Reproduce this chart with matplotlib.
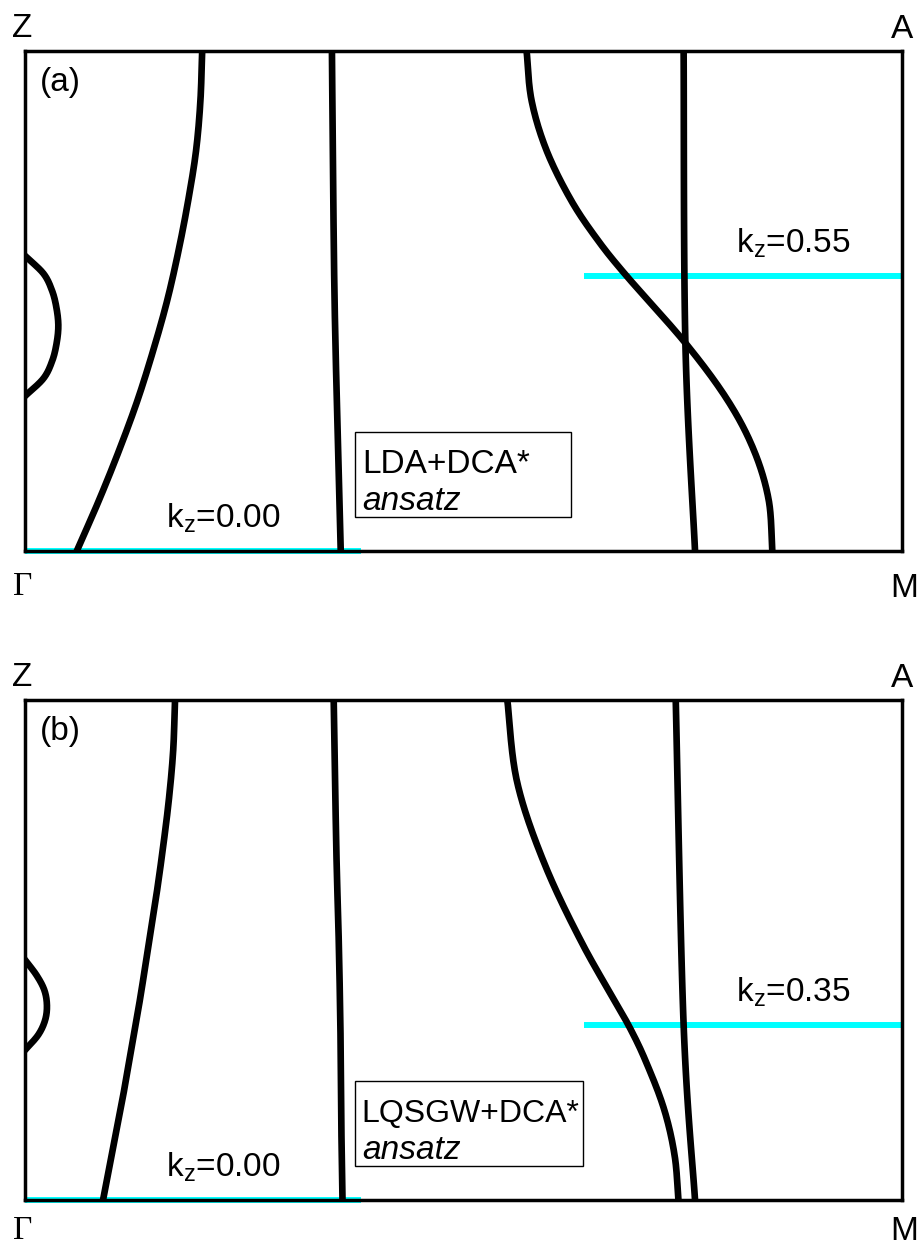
import numpy as np
import matplotlib
matplotlib.use('Agg')
import matplotlib.pyplot as plt
from matplotlib.patches import Rectangle

plt.rcParams['font.family'] = ['Liberation Sans', 'DejaVu Sans']
plt.rcParams['mathtext.fontset'] = 'custom'
plt.rcParams['mathtext.rm'] = 'Liberation Sans'
plt.rcParams['mathtext.it'] = 'Liberation Sans:italic'

# ---- data: Fermi-surface contours, x = fraction Gamma->M, kz = fraction Gamma->Z ----
# panel (a) LDA+DCA*
a_arc_kz = [0.31, 0.345, 0.38, 0.415, 0.45, 0.485, 0.52, 0.555, 0.59]
a_arc_x = [0.000, 0.021, 0.031, 0.036, 0.038, 0.036, 0.031, 0.021, 0.000]
a_c2_kz = [0.0, 0.1, 0.2, 0.3, 0.4, 0.5, 0.6, 0.7, 0.8, 0.9, 1.0]
a_c2_x = [0.059, 0.084, 0.107, 0.128, 0.146, 0.162, 0.175, 0.186, 0.195, 0.200, 0.202]
a_c3_kz = [0.0, 0.2, 0.5, 0.8, 1.0]
a_c3_x = [0.360, 0.357, 0.353, 0.351, 0.350]
a_s_kz = [1.0, 0.902, 0.802, 0.702, 0.622, 0.55, 0.416, 0.302, 0.202, 0.102, 0.0]
a_s_x = [0.572, 0.5775, 0.5945, 0.6225, 0.653, 0.686, 0.753, 0.801, 0.831, 0.848, 0.852]
a_v_kz = [0.0, 0.416, 1.0]
a_v_x = [0.764, 0.753, 0.751]
a_cut_low = (0.0, 0.0, 0.383)      # (kz, x start, x end)
a_cut_high = (0.55, 0.637, 1.0)

# panel (b) LQSGW+DCA*
b_arc_kz = [0.30, 0.33, 0.36, 0.39, 0.42, 0.45, 0.48]
b_arc_x = [0.000, 0.015, 0.023, 0.025, 0.022, 0.013, 0.000]
b_c2_kz = [0.0, 0.1, 0.2, 0.3, 0.4, 0.5, 0.6, 0.7, 0.8, 0.9, 1.0]
b_c2_x = [0.089, 0.100, 0.111, 0.121, 0.131, 0.140, 0.149, 0.157, 0.164, 0.169, 0.171]
b_c3_kz = [0.0, 0.1, 0.3, 0.5, 0.7, 1.0]
b_c3_x = [0.362, 0.361, 0.360, 0.358, 0.355, 0.352]
b_s_kz = [1.0, 0.837, 0.674, 0.511, 0.35, 0.26, 0.174, 0.086, 0.0]
b_s_x = [0.550, 0.561, 0.592, 0.636, 0.688, 0.712, 0.730, 0.741, 0.745]
b_v_kz = [0.0, 0.35, 1.0]
b_v_x = [0.764, 0.751, 0.742]
b_cut_low = (0.0, 0.0, 0.383)
b_cut_high = (0.35, 0.637, 1.0)

corner_labels = ['Z', 'A', '\u0393', 'M']
panel_labels = ['(a)', '(b)']
method_labels = ['LDA+DCA*', 'LQSGW+DCA*']


def smooth(xs, ys, n=30):
    P = np.column_stack([xs, ys]).astype(float)
    P = np.vstack([2 * P[0] - P[1], P, 2 * P[-1] - P[-2]])
    out = []
    t = np.linspace(0, 1, n, endpoint=False)[:, None]
    for i in range(1, len(P) - 2):
        p0, p1, p2, p3 = P[i - 1], P[i], P[i + 1], P[i + 2]
        out.append(0.5 * ((2 * p1) + (-p0 + p2) * t + (2 * p0 - 5 * p1 + 4 * p2 - p3) * t ** 2
                          + (-p0 + 3 * p1 - 3 * p2 + p3) * t ** 3))
    out.append(P[-2][None])
    return np.vstack(out)


def extend(xs, ys):
    # extend end segments slightly so clipping at the frame gives flat ends
    xs = list(xs); ys = list(ys)
    x0 = xs[0] + (xs[0] - xs[1]) * 0.3; y0 = ys[0] + (ys[0] - ys[1]) * 0.3
    x1 = xs[-1] + (xs[-1] - xs[-2]) * 0.3; y1 = ys[-1] + (ys[-1] - ys[-2]) * 0.3
    return [x0] + xs + [x1], [y0] + ys + [y1]


fig = plt.figure(figsize=(9.23, 12.47), dpi=100)
W, H = 923, 1247
ax_a = fig.add_axes([25 / W, (H - 551) / H, 877 / W, 500 / H])
ax_b = fig.add_axes([25 / W, (H - 1200) / H, 877 / W, 500 / H])

panels = [
    (ax_a, [(a_arc_x, a_arc_kz), (a_c2_x, a_c2_kz), (a_c3_x, a_c3_kz), (a_s_x, a_s_kz), (a_v_x, a_v_kz)],
     a_cut_low, a_cut_high, 0, 0.623, 24, -0.088, -0.092),
    (ax_b, [(b_arc_x, b_arc_kz), (b_c2_x, b_c2_kz), (b_c3_x, b_c3_kz), (b_s_x, b_s_kz), (b_v_x, b_v_kz)],
     b_cut_low, b_cut_high, 1, 0.636, 23, -0.078, -0.080),
]

cyan = '#00FFFF'
fs = 24
for ax, curves, low, high, idx, box_right, mfs, gy, my in panels:
    ax.set_xlim(0, 1)
    ax.set_ylim(0, 1)
    ax.set_xticks([]); ax.set_yticks([])
    for sp in ax.spines.values():
        sp.set_linewidth(2.5)
        sp.set_zorder(5)
    for xs, ks in curves:
        xe, ke = extend(xs, ks)
        pts = smooth(xe, ke)
        ax.plot(pts[:, 0], pts[:, 1], color='black', lw=4.8, solid_capstyle='butt', zorder=3)
    ax.plot([low[1], low[2]], [low[0], low[0]], color=cyan, lw=4.3, solid_capstyle='butt',
            clip_on=False, zorder=2)
    ax.plot([high[1], high[2]], [high[0], high[0]], color=cyan, lw=4.3, solid_capstyle='butt', zorder=2)

    ax.text(0.161, 0.046, r'k$_\mathrm{z}$=%.2f' % low[0], transform=ax.transAxes, fontsize=fs,
            ha='left', va='baseline')
    ax.text(0.811, high[0] + 0.046, r'k$_\mathrm{z}$=%.2f' % high[0], transform=ax.transAxes, fontsize=fs,
            ha='left', va='baseline')

    ax.add_patch(Rectangle((0.376, 0.068), box_right - 0.376, 0.170, transform=ax.transAxes,
                           facecolor='white', edgecolor='black', lw=1.0, zorder=4))
    ax.text(0.384, 0.156, method_labels[idx], transform=ax.transAxes, fontsize=mfs,
            ha='left', va='baseline', zorder=6)
    ax.text(0.384, 0.082, 'ansatz', transform=ax.transAxes, fontsize=fs, style='italic',
            ha='left', va='baseline', zorder=6)

    ax.text(0.017, 0.968, panel_labels[idx], transform=ax.transAxes, fontsize=fs,
            ha='left', va='top')

    ax.text(-0.0148, 1.028, corner_labels[0], transform=ax.transAxes, fontsize=fs,
            ha='left', va='baseline')
    ax.text(1.0125, 1.026, corner_labels[1], transform=ax.transAxes, fontsize=fs,
            ha='right', va='baseline')
    ax.text(-0.0137, gy, corner_labels[2], transform=ax.transAxes, fontsize=fs,
            ha='left', va='baseline', family=['Liberation Serif', 'DejaVu Serif'])
    ax.text(1.018, my, corner_labels[3], transform=ax.transAxes, fontsize=fs,
            ha='right', va='baseline')

fig.savefig('out.png', dpi=100, facecolor='white')
